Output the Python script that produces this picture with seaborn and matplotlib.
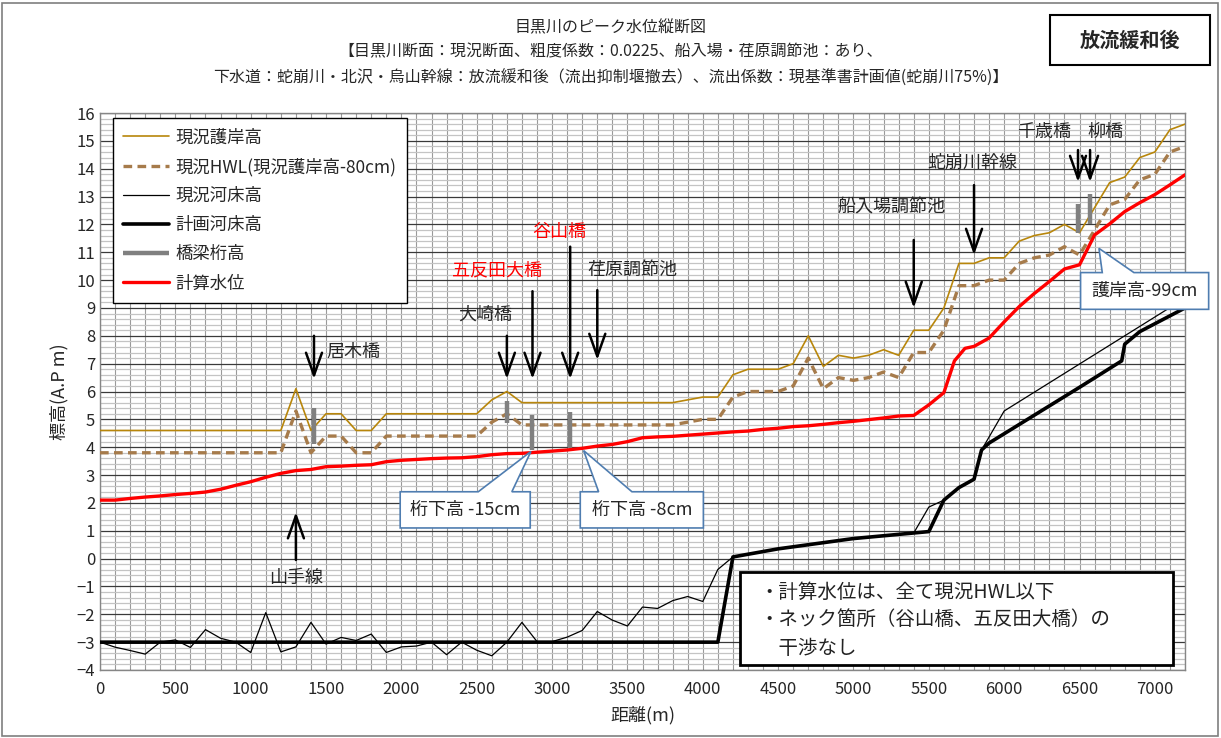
import numpy as np
import matplotlib
matplotlib.use("Agg")
import matplotlib.pyplot as plt
from matplotlib.patches import Polygon, Rectangle
import seaborn as sns

# 現況護岸高
bank_x = [0, 1200, 1300, 1400, 1500, 1600, 1700, 1800, 1900, 2500, 2600, 2700, 2800, 3800, 3900,
          4000, 4100, 4200, 4300, 4500, 4600, 4700, 4800, 4900, 5000, 5100, 5200, 5300, 5400, 5500,
          5600, 5700, 5800, 5900, 6000, 6100, 6200, 6300, 6400, 6500, 6600, 6700, 6800, 6900, 7000,
          7100, 7200]
bank_y = [4.6, 4.6, 6.1, 4.6, 5.2, 5.2, 4.6, 4.6, 5.2, 5.2, 5.7, 6.0, 5.6, 5.6, 5.7,
          5.8, 5.8, 6.6, 6.8, 6.8, 7.0, 8.0, 6.9, 7.3, 7.2, 7.3, 7.5, 7.3, 8.2, 8.2,
          9.0, 10.6, 10.6, 10.8, 10.8, 11.4, 11.6, 11.7, 12.0, 11.7, 12.6, 13.5, 13.7, 14.4, 14.6,
          15.4, 15.6]

# 現況HWL(現況護岸高-80cm)
hwl_x = bank_x
hwl_y = [3.8, 3.8, 5.3, 3.8, 4.4, 4.4, 3.8, 3.8, 4.4, 4.4, 4.9, 5.2, 4.8, 4.8, 4.9,
         5.0, 5.0, 5.8, 6.0, 6.0, 6.2, 7.2, 6.1, 6.5, 6.4, 6.5, 6.7, 6.5, 7.4, 7.4,
         8.2, 9.8, 9.8, 10.0, 10.0, 10.6, 10.8, 10.9, 11.2, 10.9, 11.8, 12.7, 12.9, 13.6, 13.8,
         14.6, 14.8]

# 現況河床高
bed_now_x = [0, 100, 200, 300, 400, 500, 600, 700, 800, 900, 1000, 1100, 1200, 1300, 1400,
             1500, 1600, 1700, 1800, 1900, 2000, 2100, 2200, 2300, 2400, 2500, 2600, 2700, 2800,
             2900, 3000, 3100, 3200, 3300, 3400, 3500, 3600, 3700, 3800, 3900, 4000, 4100, 4200,
             4500, 5000, 5400, 5500, 5600, 5700, 5800, 5850, 6000, 7200]
bed_now_y = [-3.0, -3.18, -3.3, -3.43, -3.0, -2.92, -3.19, -2.55, -2.86, -3.0, -3.37, -1.94, -3.35,
             -3.17, -2.29, -3.07, -2.83, -2.94, -2.71, -3.37, -3.17, -3.14, -3.0, -3.45, -3.0,
             -3.29, -3.49, -3.0, -2.29, -2.98, -2.98, -2.82, -2.58, -1.9, -2.21, -2.42, -1.74,
             -1.79, -1.51, -1.36, -1.54, -0.39, 0.06, 0.35, 0.72, 0.92, 1.85, 2.1, 2.55, 2.85,
             3.9, 5.3, 9.35]

# 計画河床高
bed_plan_x = [0, 4100, 4200, 4500, 5000, 5400, 5500, 5600, 5700, 5800, 5850, 5900, 6500, 6780,
              6800, 6900, 7200]
bed_plan_y = [-3.0, -3.0, 0.06, 0.35, 0.72, 0.92, 0.97, 2.1, 2.55, 2.85, 3.9, 4.15, 6.15, 7.1,
              7.7, 8.15, 9.0]

# 計算水位
wl_x = [0, 100, 200, 300, 400, 500, 600, 700, 800, 900, 1000, 1100, 1200, 1300, 1400, 1500,
        1600, 1700, 1800, 1900, 2000, 2100, 2200, 2300, 2400, 2500, 2600, 2700, 2800, 2900, 3000,
        3100, 3200, 3300, 3400, 3500, 3600, 3700, 3800, 3900, 4000, 4100, 4200, 4300, 4400, 4500,
        4600, 4700, 4800, 4900, 5000, 5100, 5200, 5300, 5400, 5500, 5600, 5670, 5740, 5800, 5900,
        6000, 6100, 6200, 6300, 6400, 6500, 6600, 6700, 6800, 6900, 7000, 7100, 7200]
wl_y = [2.1, 2.1, 2.16, 2.21, 2.25, 2.3, 2.34, 2.39, 2.49, 2.63, 2.76, 2.92, 3.06, 3.16, 3.2, 3.3,
        3.32, 3.35, 3.37, 3.48, 3.53, 3.56, 3.59, 3.61, 3.62, 3.66, 3.73, 3.77, 3.78, 3.82, 3.86,
        3.9, 3.96, 4.04, 4.1, 4.2, 4.34, 4.37, 4.39, 4.43, 4.47, 4.51, 4.55, 4.58, 4.64, 4.68,
        4.74, 4.77, 4.82, 4.88, 4.93, 4.99, 5.05, 5.12, 5.14, 5.52, 5.96, 7.1, 7.55, 7.62, 7.92,
        8.5, 9.05, 9.52, 9.95, 10.4, 10.55, 11.62, 12.02, 12.46, 12.78, 13.07, 13.42, 13.78]

# 橋梁桁高
girder_x = [1420, 2700, 2870, 3120, 6490, 6570]
girder_lo = [4.1, 4.86, 3.9, 3.98, 11.7, 12.0]
girder_hi = [5.4, 5.65, 5.15, 5.25, 12.75, 13.1]

labels = ["現況護岸高", "現況HWL(現況護岸高-80cm)", "現況河床高", "計画河床高", "橋梁桁高", "計算水位"]

sns.set_style("white")
plt.rcParams["font.family"] = ["Noto Sans CJK JP", "DejaVu Sans"]

fig = plt.figure(figsize=(12.21, 7.38), dpi=100)
ax = fig.add_axes([100 / 1221, 1 - 670 / 738, 1085 / 1221, 557 / 738])

handles = []
sns.lineplot(x=bank_x, y=bank_y, ax=ax, color="#B8860B", linewidth=1.2, sort=False,
             estimator=None, zorder=3)
handles.append(ax.lines[-1])
sns.lineplot(x=hwl_x, y=hwl_y, ax=ax, color="#A67B4B", linewidth=2.4, sort=False,
             estimator=None, linestyle=(0, (2.6, 1.6)), zorder=3)
handles.append(ax.lines[-1])
sns.lineplot(x=bed_now_x, y=bed_now_y, ax=ax, color="black", linewidth=0.9, sort=False,
             estimator=None, zorder=3)
handles.append(ax.lines[-1])
sns.lineplot(x=bed_plan_x, y=bed_plan_y, ax=ax, color="black", linewidth=2.6, sort=False,
             estimator=None, zorder=4)
handles.append(ax.lines[-1])
girders = ax.vlines(girder_x, girder_lo, girder_hi, color="#808080", linewidth=3.2, zorder=5)
handles.append(girders)
sns.lineplot(x=wl_x, y=wl_y, ax=ax, color="#FF0000", linewidth=2.4, sort=False,
             estimator=None, zorder=6)
handles.append(ax.lines[-1])

ax.set_xlim(0, 7200)
ax.set_ylim(-4, 16)
ax.set_xticks(np.arange(0, 7001, 500))
ax.set_xticks(np.arange(0, 7201, 100), minor=True)
ax.set_yticks(np.arange(-4, 17, 1))
ax.set_yticks(np.arange(-4, 16.01, 0.2), minor=True)
ax.grid(which="minor", axis="x", color="#9A9A9A", linewidth=0.8)
ax.grid(which="major", axis="x", color="#9A9A9A", linewidth=0.8)
ax.grid(which="minor", axis="y", color="#C4C4C4", linewidth=0.9)
ax.grid(which="major", axis="y", color="#3A3A3A", linewidth=0.9)
ax.set_axisbelow(True)
ax.tick_params(which="both", length=0, labelsize=12)
ax.tick_params(axis="x", pad=8)
for s in ax.spines.values():
    s.set_color("#868686")
    s.set_linewidth(1.0)
ax.set_xlabel("距離(m)", fontsize=13, labelpad=6)
ax.set_ylabel("標高(A.P m)", fontsize=13, labelpad=6)

leg = ax.legend(handles, labels, loc="upper left", bbox_to_anchor=(113 / 1221, 1 - 118 / 738),
                bbox_transform=fig.transFigure, borderaxespad=0, fontsize=12.5, handlelength=2.6,
                handletextpad=0.4, labelspacing=0.64, borderpad=0.6, fancybox=False,
                framealpha=1, edgecolor="black")
leg.get_frame().set_linewidth(1.0)
leg.set_zorder(10)

# 矢印と地点名
arrow_kw = dict(arrowstyle="->,head_length=0.9,head_width=0.32", color="black", lw=1.8,
                mutation_scale=18, shrinkA=0, shrinkB=0)


def down_arrow(x, y0, y1):
    ax.annotate("", xy=(x, y1), xytext=(x, y0), arrowprops=arrow_kw, zorder=8)


down_arrow(1420, 8.0, 6.45)
ax.text(1500, 7.42, "居木橋", fontsize=13, ha="left", va="center")
down_arrow(2700, 8.0, 6.45)
ax.text(2556, 8.75, "大崎橋", fontsize=13, ha="center", va="center")
down_arrow(2870, 9.6, 6.45)
ax.text(2636, 10.36, "五反田大橋", fontsize=13, ha="center", va="center", color="#FF0000")
down_arrow(3120, 11.2, 6.45)
ax.text(3048, 11.72, "谷山橋", fontsize=13, ha="center", va="center", color="#FF0000")
down_arrow(3300, 9.64, 7.13)
ax.text(3532, 10.36, "荏原調節池", fontsize=13, ha="center", va="center")
down_arrow(5400, 11.44, 9.0)
ax.text(5253, 12.62, "船入場調節池", fontsize=13, ha="center", va="center")
down_arrow(5800, 13.41, 10.9)
ax.text(5790, 14.2, "蛇崩川幹線", fontsize=13, ha="center", va="center")
down_arrow(6490, 14.67, 13.52)
down_arrow(6570, 14.67, 13.52)
ax.text(6263, 15.33, "千歳橋", fontsize=13, ha="center", va="center")
ax.text(6673, 15.33, "柳橋", fontsize=13, ha="center", va="center")
ax.annotate("", xy=(1300, 1.67), xytext=(1300, -0.05), arrowprops=arrow_kw, zorder=8)
ax.text(1300, -0.7, "山手線", fontsize=13, ha="center", va="center")


def callout(x0, x1, y0, y1, b0, b1, tip, text):
    pts = [(x0, y1), (b0, y1), tip, (b1, y1), (x1, y1), (x1, y0), (x0, y0)]
    ax.add_patch(Polygon(pts, closed=True, facecolor="white", edgecolor="#4F7DB0",
                         linewidth=1.2, zorder=9, clip_on=False))
    ax.text((x0 + x1) / 2, (y0 + y1) / 2, text, fontsize=13, ha="center", va="center",
            zorder=10)


callout(1992, 2855, 1.10, 2.40, 2510, 2733, (2860, 3.85), "桁下高 -15cm")
callout(3187, 4004, 1.10, 2.40, 3309, 3530, (3209, 3.88), "桁下高 -8cm")
callout(6507, 7357, 8.95, 10.27, 6651, 6861, (6629, 11.14), "護岸高-99cm")

# 注記
ax.add_patch(Rectangle((4250, -3.82), 2868, 3.34, facecolor="white", edgecolor="black",
                       linewidth=2.0, zorder=9))
note_lines = ["・計算水位は、全て現況HWL以下", "・ネック箇所（谷山橋、五反田大橋）の", "　干渉なし"]
for yy, t in zip([-1.22, -2.19, -3.22], note_lines):
    ax.text(4376, yy, t, fontsize=14, ha="left", va="center", zorder=10, color="#222222")

# タイトル
fig.text(0.5, 1 - 28 / 738, "目黒川のピーク水位縦断図", fontsize=11.5, ha="center", va="center")
fig.text(0.5, 1 - 52 / 738, "【目黒川断面：現況断面、粗度係数：0.0225、船入場・荏原調節池：あり、",
         fontsize=11.5, ha="center", va="center")
fig.text(0.5, 1 - 78 / 738,
         "下水道：蛇崩川・北沢・烏山幹線：放流緩和後（流出抑制堰撤去）、流出係数：現基準書計画値(蛇崩川75%)】",
         fontsize=11.5, ha="center", va="center")
fig.patches.append(Rectangle((1050 / 1221, 1 - 65 / 738), 160 / 1221, 50 / 738,
                             transform=fig.transFigure, facecolor="white", edgecolor="black",
                             linewidth=1.5))
fig.text(1130 / 1221, 1 - 40 / 738, "放流緩和後", fontsize=14.5, fontweight="bold",
         ha="center", va="center")
fig.patches.append(Rectangle((2 / 1221, 2 / 738), 1216 / 1221, 733 / 738,
                             transform=fig.transFigure, fill=False, edgecolor="#7F7F7F",
                             linewidth=1.2))

fig.savefig("out.png", dpi=100)
